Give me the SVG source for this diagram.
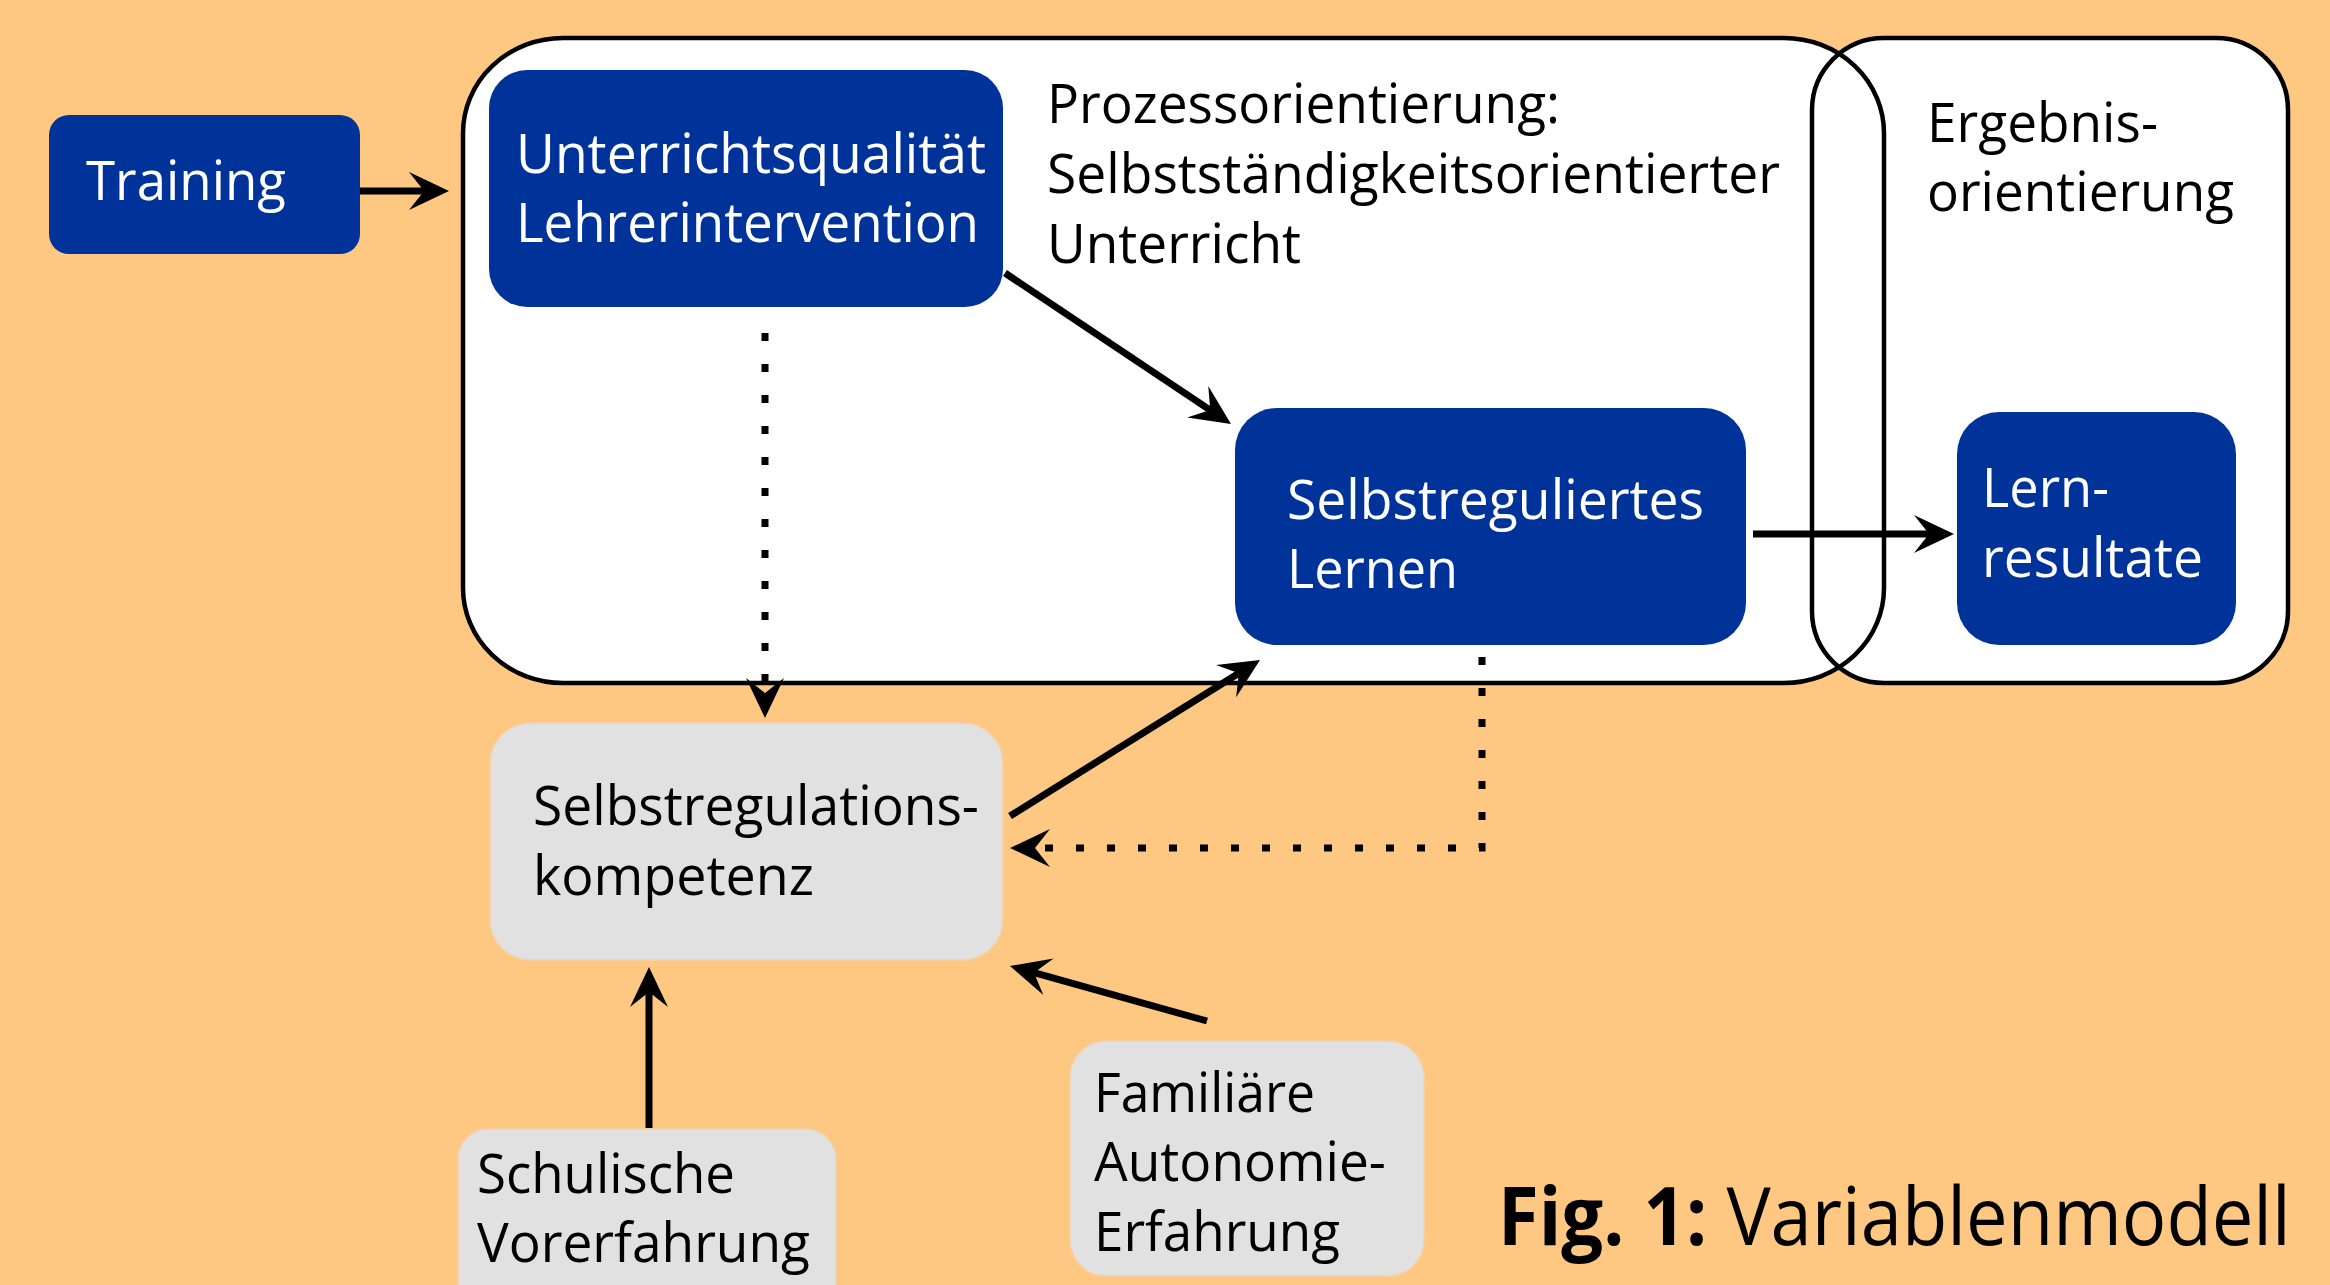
<svg xmlns="http://www.w3.org/2000/svg" width="2330" height="1285" viewBox="0 0 2330 1285">
<style>
.bg{fill:#FFC882}
.frame{fill:none;stroke:#000;stroke-width:4.5}
.framefill{fill:#fff;stroke:none}
.blue{fill:#003399}
.gray{fill:#E1E1E1;stroke:#F2D2A8;stroke-width:1.5}
text{font-family:"Open Sans","Noto Sans","Liberation Sans",sans-serif;font-size:54px}
.w{fill:#fff}
.k{fill:#000}
.line{fill:none;stroke:#000;stroke-width:7;marker-end:url(#ah)}
.dot{fill:none;stroke:#000;stroke-width:7;stroke-dasharray:8 23;marker-end:url(#ah)}
</style>
<defs>
<marker id="ah" markerUnits="userSpaceOnUse" orient="auto" refX="0" refY="0" markerWidth="80" markerHeight="80" viewBox="-40 -40 80 80" overflow="visible">
<path d="M25,0 L-15,-19 L0,0 L-15,19 Z" fill="#000"/>
</marker>
</defs>
<rect class="bg" x="0" y="0" width="2330" height="1285"/>

<g id="frames">
<rect class="framefill" x="463" y="38" width="1421" height="645" rx="100" ry="95"/>
<rect class="framefill" x="1812" y="38" width="476" height="645" rx="72" ry="72"/>
<rect class="frame" x="463" y="38" width="1421" height="645" rx="100" ry="95"/>
<rect class="frame" x="1812" y="38" width="476" height="645" rx="72" ry="72"/>
</g>

<g id="label-prozess">
<text class="k" x="1047" y="123" textLength="513" lengthAdjust="spacingAndGlyphs">Prozessorientierung:</text>
<text class="k" x="1047" y="193" textLength="733" lengthAdjust="spacingAndGlyphs">Selbstständigkeitsorientierter</text>
<text class="k" x="1047" y="263" textLength="254" lengthAdjust="spacingAndGlyphs">Unterricht</text>
</g>
<g id="label-ergebnis">
<text class="k" x="1927" y="142" textLength="231" lengthAdjust="spacingAndGlyphs">Ergebnis-</text>
<text class="k" x="1927" y="211" textLength="307" lengthAdjust="spacingAndGlyphs">orientierung</text>
</g>

<g id="training">
<rect class="blue" x="49" y="115" width="311" height="139" rx="20"/>
<text class="w" x="86" y="200" textLength="200" lengthAdjust="spacingAndGlyphs">Training</text>
</g>

<g id="unterrichtsqualitaet">
<rect class="blue" x="489" y="70" width="514" height="237" rx="38"/>
<text class="w" x="516" y="173" textLength="470" lengthAdjust="spacingAndGlyphs">Unterrichtsqualität</text>
<text class="w" x="516" y="242" textLength="463" lengthAdjust="spacingAndGlyphs">Lehrerintervention</text>
</g>

<g id="selbstreguliertes-lernen">
<rect class="blue" x="1235" y="408" width="511" height="237" rx="42"/>
<text class="w" x="1287" y="519" textLength="417" lengthAdjust="spacingAndGlyphs">Selbstreguliertes</text>
<text class="w" x="1287" y="588" textLength="171" lengthAdjust="spacingAndGlyphs">Lernen</text>
</g>

<g id="lernresultate">
<rect class="blue" x="1957" y="412" width="279" height="233" rx="42"/>
<text class="w" x="1982" y="507" textLength="127" lengthAdjust="spacingAndGlyphs">Lern-</text>
<text class="w" x="1982" y="577" textLength="221" lengthAdjust="spacingAndGlyphs">resultate</text>
</g>

<g id="selbstregulationskompetenz">
<rect class="gray" x="490" y="723" width="513" height="237" rx="40"/>
<text class="k" x="533" y="825" textLength="446" lengthAdjust="spacingAndGlyphs">Selbstregulations-</text>
<text class="k" x="533" y="895" textLength="281" lengthAdjust="spacingAndGlyphs">kompetenz</text>
</g>

<g id="schulische-vorerfahrung">
<rect class="gray" x="458" y="1129" width="378" height="220" rx="30"/>
<text class="k" x="477" y="1193" textLength="258" lengthAdjust="spacingAndGlyphs">Schulische</text>
<text class="k" x="477" y="1262" textLength="333" lengthAdjust="spacingAndGlyphs">Vorerfahrung</text>
</g>

<g id="familiaere-autonomie-erfahrung">
<rect class="gray" x="1070" y="1041" width="354" height="235" rx="36"/>
<text class="k" x="1094" y="1112" textLength="221" lengthAdjust="spacingAndGlyphs">Familiäre</text>
<text class="k" x="1094" y="1181" textLength="292" lengthAdjust="spacingAndGlyphs">Autonomie-</text>
<text class="k" x="1094" y="1251" textLength="246" lengthAdjust="spacingAndGlyphs">Erfahrung</text>
</g>

<g id="connectors">
<line class="line" x1="360" y1="191" x2="424" y2="191"/>
<line class="line" x1="1005" y1="273" x2="1210.2" y2="410.1"/>
<line class="line" x1="1753" y1="534" x2="1929" y2="534"/>
<line class="line" x1="1010" y1="816" x2="1238.8" y2="673.2"/>
<line class="dot" x1="765" y1="333" x2="765" y2="693"/>
<polyline class="dot" points="1482,657 1482,848 1035,848"/>
<line class="line" x1="649" y1="1128" x2="649" y2="992"/>
<line class="line" x1="1207" y1="1021" x2="1034" y2="972.7"/>
</g>

<g id="caption" transform="translate(1498,1245) scale(0.8,1)">
<text x="0" y="0" style="font-size:80px" textLength="991" lengthAdjust="spacingAndGlyphs"><tspan font-weight="bold">Fig. 1:</tspan> Variablenmodell</text>
</g>
</svg>
